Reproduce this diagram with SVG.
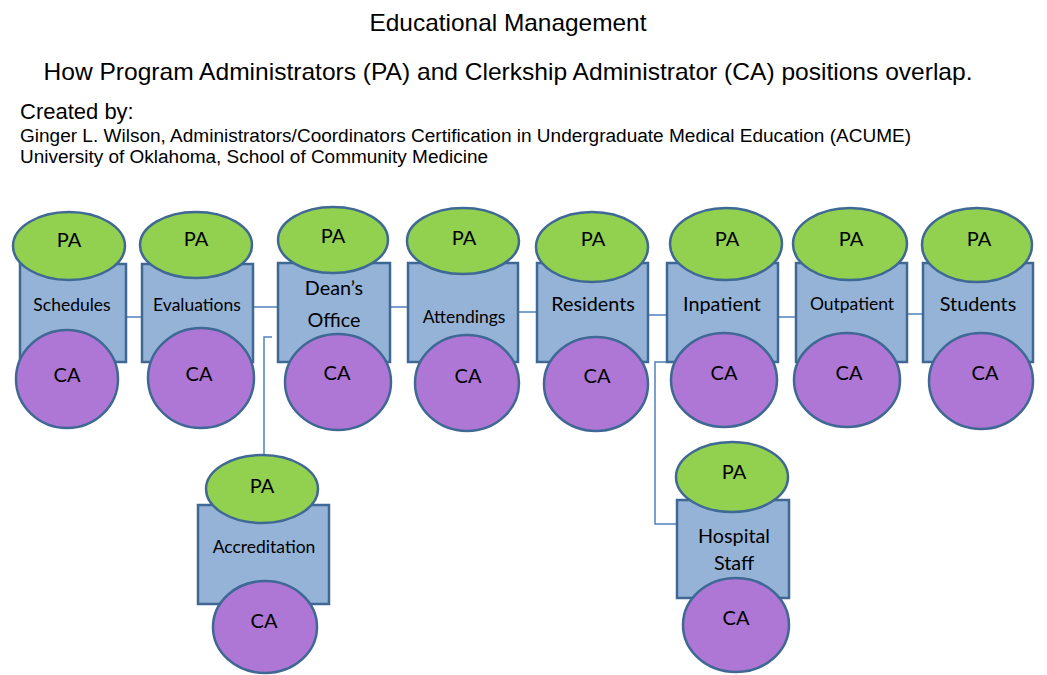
<svg xmlns="http://www.w3.org/2000/svg" width="1047" height="675" viewBox="0 0 1047 675">
<style>
.hdr{font-family:"Liberation Sans",Arial,sans-serif;fill:#000}
.box{fill:#95B3D7;stroke:#3F6894;stroke-width:2.5}
.pa{fill:#92D050;stroke:#3F6894;stroke-width:2.5}
.ca{fill:#AE76D5;stroke:#3F6894;stroke-width:2.5}
.t{font-family:Lato,"Open Sans",sans-serif;fill:#000;text-anchor:middle}
.s16{font-size:17.5px}
.s18{font-size:19.8px}
.lbl{font-size:20px}
.conn{fill:none;stroke:#4F81BD;stroke-width:1.5}
</style>
<rect width="1047" height="675" fill="#fff"/>
<g id="header">
<text class="hdr" x="508" y="31" font-size="24" text-anchor="middle" textLength="277" lengthAdjust="spacingAndGlyphs">Educational Management</text>
<text class="hdr" x="508" y="80" font-size="24" text-anchor="middle" textLength="929" lengthAdjust="spacingAndGlyphs">How Program Administrators (PA) and Clerkship Administrator (CA) positions overlap.</text>
<text class="hdr" x="20" y="119" font-size="22">Created by:</text>
<text class="hdr" x="20" y="142" font-size="18" textLength="891" lengthAdjust="spacingAndGlyphs">Ginger L. Wilson, Administrators/Coordinators Certification in Undergraduate Medical Education (ACUME)</text>
<text class="hdr" x="20" y="163" font-size="18" textLength="468" lengthAdjust="spacingAndGlyphs">University of Oklahoma, School of Community Medicine</text>
</g>
<g id="connectors">
<path class="conn" d="M118 317H142"/>
<path class="conn" d="M253 307H278"/>
<path class="conn" d="M390 307H415"/>
<path class="conn" d="M452 301H477"/>
<path class="conn" d="M518 312H543"/>
<path class="conn" d="M648 315H672"/>
<path class="conn" d="M773 317H796"/>
<path class="conn" d="M907 314H928"/>
<path class="conn" d="M272 337H264V455"/>
<path class="conn" d="M667 362H655V524H677"/>
</g>
<g id="node-schedules">
<rect class="box" x="20" y="264" width="106" height="98"/>
<ellipse class="pa" cx="69" cy="246" rx="56" ry="34"/>
<ellipse class="ca" cx="67" cy="379" rx="51" ry="49"/>
<text class="t lbl" x="69" y="247">PA</text>
<text class="t s16" x="72" y="311">Schedules</text>
<text class="t lbl" x="67" y="382">CA</text>
</g>
<g id="node-evaluations">
<rect class="box" x="142" y="264" width="111" height="98"/>
<ellipse class="pa" cx="196" cy="245" rx="56" ry="33"/>
<ellipse class="ca" cx="201" cy="378" rx="53" ry="50"/>
<text class="t lbl" x="196" y="246">PA</text>
<text class="t s16" x="197" y="311">Evaluations</text>
<text class="t lbl" x="199" y="381">CA</text>
</g>
<g id="node-deans-office">
<rect class="box" x="278" y="263" width="112" height="99"/>
<ellipse class="pa" cx="333" cy="240" rx="55" ry="33"/>
<ellipse class="ca" cx="338" cy="382" rx="53" ry="48"/>
<text class="t lbl" x="333" y="243">PA</text>
<text class="t s18" x="334" y="295">Dean’s</text>
<text class="t s18" x="334" y="327">Office</text>
<text class="t lbl" x="337" y="380">CA</text>
</g>
<g id="node-attendings">
<rect class="box" x="408" y="263" width="110" height="99"/>
<ellipse class="pa" cx="463" cy="241" rx="56" ry="33"/>
<ellipse class="ca" cx="467" cy="383" rx="52" ry="48"/>
<text class="t lbl" x="464" y="245">PA</text>
<text class="t s16" x="464" y="323">Attendings</text>
<text class="t lbl" x="468" y="383">CA</text>
</g>
<g id="node-residents">
<rect class="box" x="537" y="263" width="111" height="99"/>
<ellipse class="pa" cx="592" cy="247" rx="56" ry="35"/>
<ellipse class="ca" cx="596" cy="384" rx="52" ry="47"/>
<text class="t lbl" x="593" y="246">PA</text>
<text class="t s18" x="593" y="311">Residents</text>
<text class="t lbl" x="597" y="383">CA</text>
</g>
<g id="node-inpatient">
<rect class="box" x="667" y="263" width="111" height="99"/>
<ellipse class="pa" cx="726" cy="244" rx="56" ry="36"/>
<ellipse class="ca" cx="724" cy="380" rx="53" ry="47"/>
<text class="t lbl" x="727" y="246">PA</text>
<text class="t s18" x="722" y="311">Inpatient</text>
<text class="t lbl" x="724" y="380">CA</text>
</g>
<g id="node-outpatient">
<rect class="box" x="796" y="263" width="111" height="99"/>
<ellipse class="pa" cx="850" cy="244" rx="57" ry="36"/>
<ellipse class="ca" cx="847" cy="380" rx="53" ry="47"/>
<text class="t lbl" x="851" y="246">PA</text>
<text class="t s16" x="852" y="310">Outpatient</text>
<text class="t lbl" x="849" y="380">CA</text>
</g>
<g id="node-students">
<rect class="box" x="923" y="263" width="110" height="99"/>
<ellipse class="pa" cx="977" cy="245" rx="55" ry="37"/>
<ellipse class="ca" cx="981" cy="381" rx="52" ry="48"/>
<text class="t lbl" x="979" y="246">PA</text>
<text class="t s18" x="978" y="311">Students</text>
<text class="t lbl" x="985" y="380">CA</text>
</g>
<g id="node-accreditation">
<rect class="box" x="198" y="505" width="131" height="99"/>
<ellipse class="pa" cx="262" cy="489" rx="56" ry="34"/>
<ellipse class="ca" cx="265" cy="627" rx="52" ry="46"/>
<text class="t lbl" x="262" y="493">PA</text>
<text class="t s16" x="264" y="553">Accreditation</text>
<text class="t lbl" x="264" y="628">CA</text>
</g>
<g id="node-hospital-staff">
<rect class="box" x="677" y="500" width="112" height="98"/>
<ellipse class="pa" cx="732" cy="477" rx="56" ry="35"/>
<ellipse class="ca" cx="736" cy="625" rx="53" ry="47"/>
<text class="t lbl" x="734" y="479">PA</text>
<text class="t s18" x="734" y="543">Hospital</text>
<text class="t s18" x="734" y="570">Staff</text>
<text class="t lbl" x="736" y="625">CA</text>
</g>
</svg>
